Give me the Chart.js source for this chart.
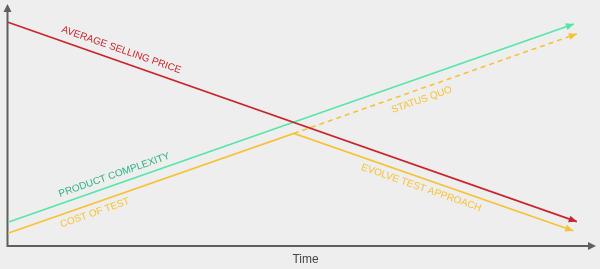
<!DOCTYPE html>
<html>
<head>
<meta charset="utf-8">
<script src="https://cdn.jsdelivr.net/npm/chart.js@4/dist/chart.umd.min.js"></script>
<style>
  html, body { margin: 0; padding: 0; background: #eeeeee; }
  #wrap { width: 600px; height: 269px; }
</style>
</head>
<body>
<div id="wrap"><canvas id="chart"></canvas></div>
<script>
// values (time 0..100, level 0..100)
const priceX = [0, 96.9];
const priceY = [92.4, 9.7];
const complexityX = [0, 96.4];
const complexityY = [9.4, 91.7];
const costX = [0, 48.7, 96.3];
const costY = [4.9, 46.3, 5.9];
const statusQuoX = [48.7, 96.9];
const statusQuoY = [46.3, 87.6];
const axisTitle = 'Time';

const red = '#c8252c';
const green = '#55e6a8';
const greenText = '#2cb27f';
const yellow = '#f6c234';

const toPoints = (xs, ys) => xs.map((x, i) => ({ x: x, y: ys[i] }));

// text along the lines: anchor in data units, which dataset gives the angle
const lineLabels = [
  { text: 'AVERAGE SELLING PRICE', x: 19.3, y: 80.9, ds: 0, seg: 0, color: red },
  { text: 'PRODUCT COMPLEXITY', x: 18.1, y: 29.0, ds: 1, seg: 0, color: greenText },
  { text: 'COST OF TEST', x: 14.8, y: 13.3, ds: 2, seg: 0, color: yellow },
  { text: 'STATUS QUO', x: 70.5, y: 60.2, ds: 3, seg: 0, color: yellow },
  { text: 'EVOLVE TEST APPROACH', x: 70.4, y: 23.7, ds: 2, seg: 1, color: yellow },
];

function arrow(ctx, x0, y0, x1, y1, len, half, color) {
  const a = Math.atan2(y1 - y0, x1 - x0);
  ctx.save();
  ctx.translate(x1, y1);
  ctx.rotate(a);
  ctx.fillStyle = color;
  ctx.beginPath();
  ctx.moveTo(0, 0);
  ctx.lineTo(-len, -half);
  ctx.lineTo(-len, half);
  ctx.closePath();
  ctx.fill();
  ctx.restore();
}

const decorations = {
  id: 'decorations',
  beforeDatasetsDraw(chart) {
    const { ctx, chartArea } = chart;
    const axisColor = '#5b625c';
    ctx.save();
    ctx.strokeStyle = axisColor;
    ctx.lineWidth = 2;
    ctx.beginPath();
    ctx.moveTo(chartArea.left - 0.5, 10);
    ctx.lineTo(chartArea.left - 0.5, chartArea.bottom + 1);
    ctx.lineTo(chartArea.right - 6, chartArea.bottom + 1);
    ctx.stroke();
    arrow(ctx, chartArea.left - 0.5, 100, chartArea.left - 0.5, 4, 8, 4, axisColor);
    arrow(ctx, 100, chartArea.bottom + 1, chartArea.right + 1, chartArea.bottom + 1, 8, 4, axisColor);
    ctx.fillStyle = '#444444';
    ctx.font = '12px "Liberation Sans", Arial, sans-serif';
    ctx.textAlign = 'center';
    ctx.textBaseline = 'middle';
    ctx.fillText(axisTitle, (chartArea.left + chartArea.right) / 2 + 4, chartArea.bottom + 15);
    ctx.restore();
  },
  afterDatasetsDraw(chart) {
    const { ctx } = chart;
    const xs = chart.scales.x, ys = chart.scales.y;
    ctx.save();
    chart.data.datasets.forEach((ds, i) => {
      const pts = chart.getDatasetMeta(i).data;
      const a = pts[pts.length - 2], b = pts[pts.length - 1];
      arrow(ctx, a.x, a.y, b.x, b.y, 8, 3.5, ds.borderColor);
    });
    ctx.font = '10px "Liberation Sans", Arial, sans-serif';
    ctx.textAlign = 'center';
    ctx.textBaseline = 'middle';
    lineLabels.forEach(l => {
      const pts = chart.getDatasetMeta(l.ds).data;
      const p0 = pts[l.seg], p1 = pts[l.seg + 1];
      const ang = Math.atan2(p1.y - p0.y, p1.x - p0.x);
      ctx.save();
      ctx.translate(xs.getPixelForValue(l.x), ys.getPixelForValue(l.y));
      ctx.rotate(ang);
      ctx.fillStyle = l.color;
      ctx.fillText(l.text, 0, 0);
      ctx.restore();
    });
    ctx.restore();
  }
};

new Chart(document.getElementById('chart'), {
  type: 'line',
  data: {
    datasets: [
      { data: toPoints(priceX, priceY), borderColor: red, borderWidth: 1.6 },
      { data: toPoints(complexityX, complexityY), borderColor: green, borderWidth: 1.6 },
      { data: toPoints(costX, costY), borderColor: yellow, borderWidth: 1.6 },
      { data: toPoints(statusQuoX, statusQuoY), borderColor: yellow, borderWidth: 1.6, borderDash: [5, 4] },
    ]
  },
  options: {
    responsive: true,
    maintainAspectRatio: false,
    animation: false,
    layout: { padding: { left: 8, right: 5, top: 4, bottom: 24 } },
    elements: { point: { radius: 0 }, line: { tension: 0, fill: false } },
    datasets: { line: { clip: false } },
    plugins: { legend: { display: false }, tooltip: { enabled: false } },
    scales: {
      x: { type: 'linear', min: 0, max: 100, display: false },
      y: { type: 'linear', min: 0, max: 100, display: false }
    }
  },
  plugins: [decorations]
});
</script>
</body>
</html>
